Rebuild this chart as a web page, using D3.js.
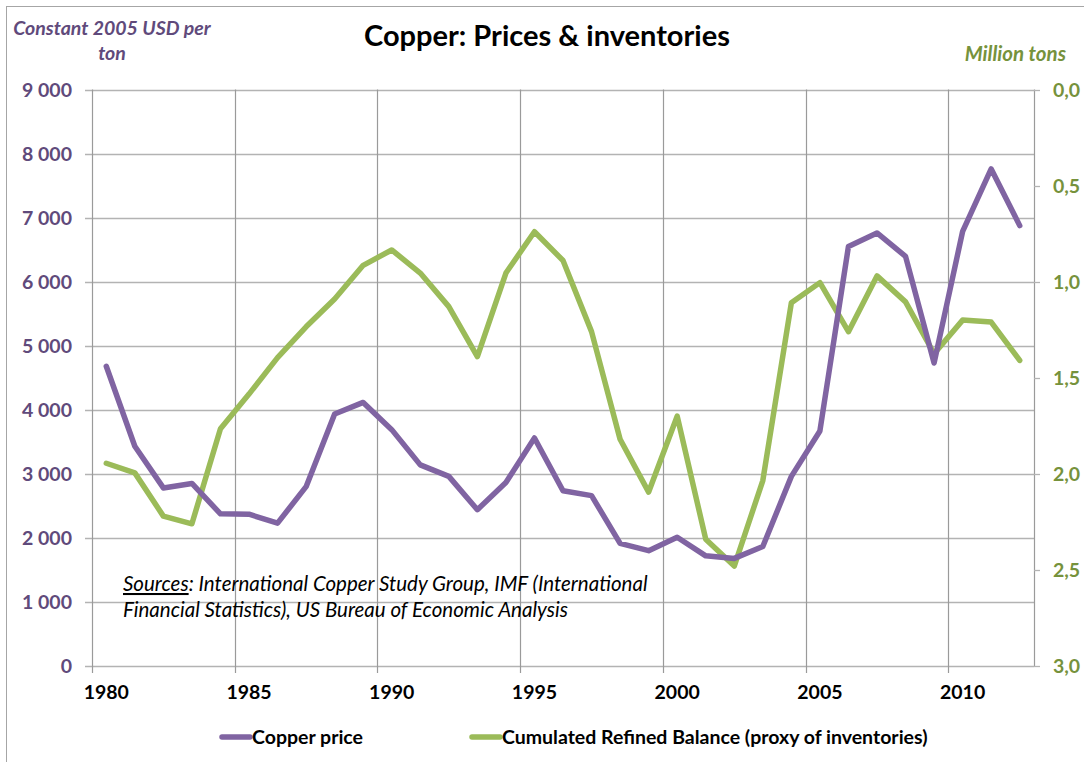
<!DOCTYPE html>
<html>
<head>
<meta charset="utf-8">
<script src="https://cdn.jsdelivr.net/npm/d3@7"></script>
<style>
  body { margin: 0; background: #fff; }
  svg { font-family: Lato, "Open Sans", sans-serif; }
</style>
</head>
<body>
<svg id="chart" width="1084" height="762"></svg>
<script>
// data
var years = d3.range(1980, 2013);
var copperPrice = [4680, 3430, 2780, 2850, 2375, 2370, 2230, 2800, 3935, 4115,
  3690, 3140, 2960, 2440, 2865, 3560, 2735, 2660, 1915, 1800,
  2010, 1720, 1680, 1865, 2960, 3670, 6550, 6760, 6395, 4730,
  6785, 7760, 6875];
var refinedBalance = [1.945, 1.995, 2.22, 2.26, 1.765, 1.585, 1.395, 1.235, 1.09, 0.915,
  0.835, 0.955, 1.13, 1.39, 0.955, 0.74, 0.89, 1.26, 1.82, 2.095,
  1.70, 2.34, 2.48, 2.035, 1.11, 1.005, 1.26, 0.97, 1.105, 1.375,
  1.20, 1.21, 1.41];
var leftTicks = d3.range(0, 9001, 1000);
var rightTicks = d3.range(0, 3.01, 0.5);
var yearLabels = [1980, 1985, 1990, 1995, 2000, 2005, 2010];

var purple = '#8064a2', green = '#9bbb59';
var purpleText = '#604a7b', greenText = '#76923c';

var svg = d3.select('#chart');
var plotL = 92, plotR = 1034, plotT = 89.5, plotB = 666;
var fs = 19.5;

// outer border
svg.append('rect')
  .attr('x', 6.5).attr('y', 6.5)
  .attr('width', 1090).attr('height', 760)
  .attr('fill', 'none').attr('stroke', '#a6a6a6');

var x = d3.scaleBand().domain(years).range([plotL, plotR]);
var yL = d3.scaleLinear().domain([0, 9000]).range([plotB, plotT]);
var yR = d3.scaleLinear().domain([0, 3]).range([plotT, plotB]);

var fmtL = function(d) { return d3.format(',')(d).replace(/,/g, ' '); };
var fmtR = function(d) { return d3.format('.1f')(d).replace('.', ','); };

// horizontal grid
svg.append('g')
  .selectAll('line').data(leftTicks).join('line')
  .attr('x1', plotL - 7).attr('x2', plotR)
  .attr('y1', function(d) { return Math.round(yL(d)) + 0.5; })
  .attr('y2', function(d) { return Math.round(yL(d)) + 0.5; })
  .attr('stroke', '#b3b3b3').attr('stroke-width', 1.3);

// vertical grid at category boundaries, every 5 years
svg.append('g')
  .selectAll('line').data(yearLabels).join('line')
  .attr('x1', function(d) { return Math.round(x(d)) + 0.5; })
  .attr('x2', function(d) { return Math.round(x(d)) + 0.5; })
  .attr('y1', plotT).attr('y2', plotB + 7)
  .attr('stroke', '#9a9a9a').attr('stroke-width', 1.2);

// right edge
svg.append('line')
  .attr('x1', plotR + 0.5).attr('x2', plotR + 0.5)
  .attr('y1', plotT).attr('y2', plotB)
  .attr('stroke', '#9a9a9a').attr('stroke-width', 1.2);
svg.append('g')
  .selectAll('line').data(rightTicks).join('line')
  .attr('x1', plotR).attr('x2', plotR + 6)
  .attr('y1', function(d) { return Math.round(yR(d)) + 0.5; })
  .attr('y2', function(d) { return Math.round(yR(d)) + 0.5; })
  .attr('stroke', '#b3b3b3').attr('stroke-width', 1.3);

// left axis labels
svg.append('g')
  .selectAll('text').data(leftTicks).join('text')
  .attr('x', 72).attr('y', function(d) { return yL(d) + 7; })
  .attr('text-anchor', 'end')
  .attr('font-size', fs).attr('font-weight', 'bold')
  .attr('fill', purpleText)
  .text(fmtL);

// right axis labels
svg.append('g')
  .selectAll('text').data(rightTicks).join('text')
  .attr('x', 1053).attr('y', function(d) { return yR(d) + 7; })
  .attr('font-size', fs).attr('font-weight', 'bold')
  .attr('fill', greenText)
  .text(fmtR);

// x labels
svg.append('g')
  .selectAll('text').data(yearLabels).join('text')
  .attr('x', function(d) { return x(d) + x.bandwidth() / 2; })
  .attr('y', 699)
  .attr('text-anchor', 'middle')
  .attr('font-size', fs).attr('font-weight', 'bold')
  .attr('fill', '#000')
  .text(function(d) { return d; });

// sources note
var note = svg.append('g').attr('font-size', 20.5).attr('font-style', 'italic').attr('fill', '#000');
var t1 = note.append('text').attr('x', 123).attr('y', 591);
t1.append('tspan').attr('text-decoration', 'underline').text('Sources');
t1.append('tspan').text(': International Copper Study Group, IMF (International');
note.append('text').attr('x', 123).attr('y', 617)
  .text('Financial Statistics), US Bureau of Economic Analysis');

// lines
var cx = function(d, i) { return x(years[i]) + x.bandwidth() / 2; };
svg.append('path')
  .datum(refinedBalance)
  .attr('fill', 'none').attr('stroke', green).attr('stroke-width', 5.5)
  .attr('stroke-linejoin', 'round').attr('stroke-linecap', 'round')
  .attr('d', d3.line().x(cx).y(function(d) { return yR(d); }));
svg.append('path')
  .datum(copperPrice)
  .attr('fill', 'none').attr('stroke', purple).attr('stroke-width', 5.5)
  .attr('stroke-linejoin', 'round').attr('stroke-linecap', 'round')
  .attr('d', d3.line().x(cx).y(function(d) { return yL(d); }));

// titles
svg.append('text')
  .attr('x', 547).attr('y', 46).attr('text-anchor', 'middle')
  .attr('font-size', 29).attr('font-weight', 'bold').attr('fill', '#000')
  .text('Copper: Prices & inventories');

var lt = svg.append('g').attr('font-size', fs).attr('font-weight', 'bold')
  .attr('font-style', 'italic').attr('fill', purpleText).attr('text-anchor', 'middle');
lt.append('text').attr('x', 112).attr('y', 35).text('Constant 2005 USD per');
lt.append('text').attr('x', 112).attr('y', 60).text('ton');

svg.append('text')
  .attr('x', 1066).attr('y', 61).attr('text-anchor', 'end')
  .attr('font-size', 20.5).attr('font-weight', 'bold').attr('font-style', 'italic')
  .attr('fill', greenText)
  .text('Million tons');

// legend
var legend = [
  { name: 'Copper price', color: purple, x: 222 },
  { name: 'Cumulated Refined Balance (proxy of inventories)', color: green, x: 472 }
];
var lg = svg.append('g').selectAll('g').data(legend).join('g')
  .attr('transform', function(d) { return 'translate(' + d.x + ',737)'; });
lg.append('line')
  .attr('x1', 0).attr('x2', 28).attr('y1', 0).attr('y2', 0)
  .attr('stroke', function(d) { return d.color; }).attr('stroke-width', 5.5)
  .attr('stroke-linecap', 'round');
lg.append('text')
  .attr('x', 30).attr('y', 7)
  .attr('font-size', fs).attr('font-weight', 'bold').attr('fill', '#000')
  .text(function(d) { return d.name; });
</script>
</body>
</html>
